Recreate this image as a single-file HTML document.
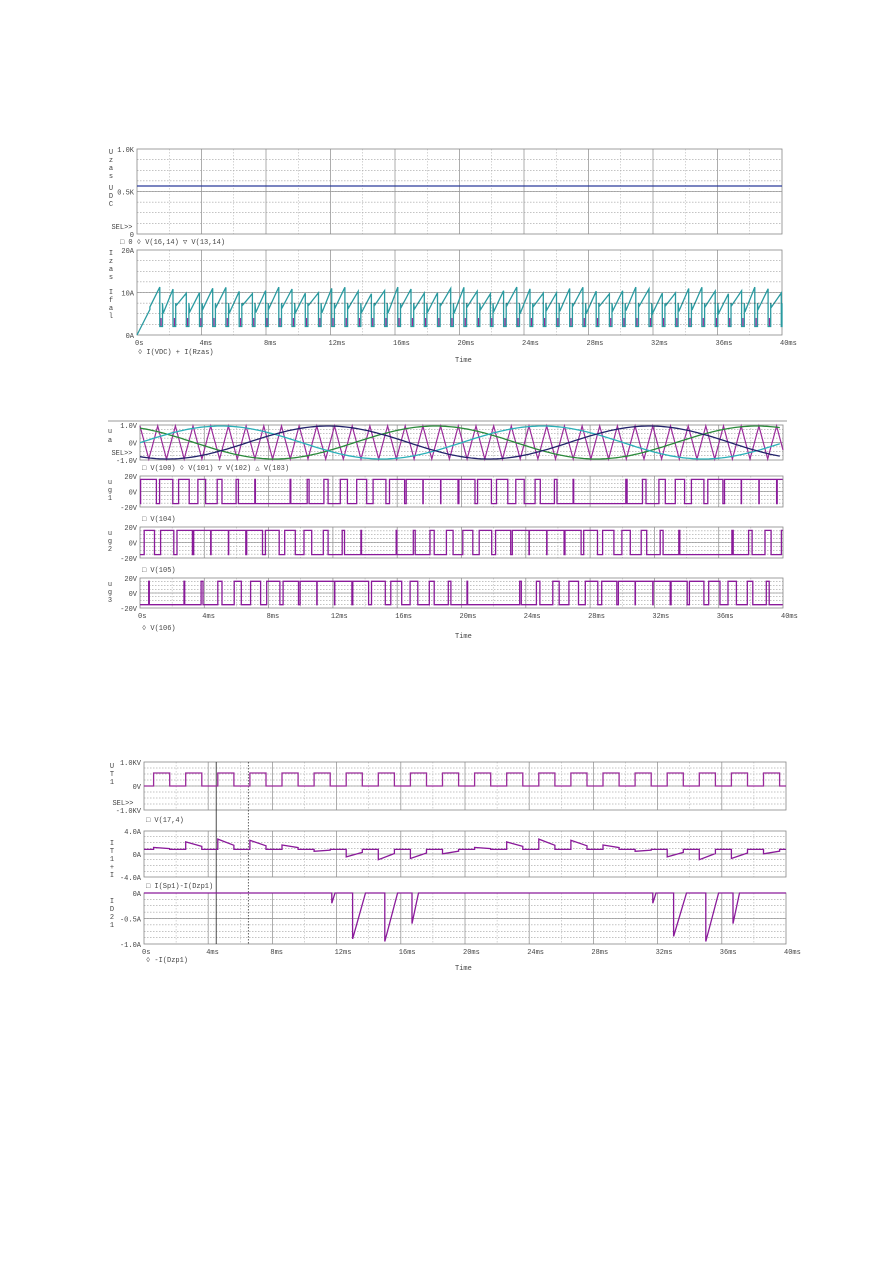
<!DOCTYPE html>
<html><head><meta charset="utf-8"><style>
html,body{margin:0;padding:0;background:#fff;width:893px;height:1263px;overflow:hidden}
svg{display:block}
text{font-family:"Liberation Mono",monospace;font-size:7px;fill:#444}
</style></head><body>
<svg id="s" width="893" height="1263" xmlns="http://www.w3.org/2000/svg">
<text x="455" y="362">Time</text>
<text x="455" y="638">Time</text>
<text x="455" y="970">Time</text>
<line x1="108" y1="421" x2="787" y2="421" stroke="#999" stroke-width="1"/>
<text x="120" y="244">□ 0 ◊ V(16,14) ▽ V(13,14)</text>
<text x="138" y="354">◊ I(VDC) + I(Rzas)</text>
<text x="142" y="470">□ V(100) ◊ V(101) ▽ V(102) △ V(103)</text>
<text x="142" y="521">□ V(104)</text>
<text x="142" y="572">□ V(105)</text>
<text x="142" y="630">◊ V(106)</text>
<text x="146" y="822">□ V(17,4)</text>
<text x="146" y="888">□ I(Sp1)-I(Dzp1)</text>
<text x="146" y="962">◊ -I(Dzp1)</text>
</svg>
<script>
var S=document.getElementById('s'),NS='http://www.w3.org/2000/svg';
function el(n,a,t){var e=document.createElementNS(NS,n);for(var k in a)e.setAttribute(k,a[k]);if(t!=null)e.textContent=t;S.appendChild(e);return e;}
function panel(x0,x1,y0,y1,labels,side,xt){
 var nh=8;
 for(var i=1;i<nh;i++){var y=y0+(y1-y0)*i/nh;el('line',{x1:x0,x2:x1,y1:y,y2:y,stroke:'#888','stroke-width':0.6,'stroke-dasharray':'1.5,1.5'});}
 for(var i=1;i<40;i++){var x=x0+(x1-x0)*i/40;if(i%4==0)el('line',{x1:x,x2:x,y1:y0,y2:y1,stroke:'#999','stroke-width':0.8});else if(i%2==0)el('line',{x1:x,x2:x,y1:y0,y2:y1,stroke:'#aaa','stroke-width':0.5,'stroke-dasharray':'1.5,1.5'});}
 el('line',{x1:x0,x2:x1,y1:(y0+y1)/2,y2:(y0+y1)/2,stroke:'#999','stroke-width':0.7});
 el('rect',{x:x0,y:y0,width:x1-x0,height:y1-y0,fill:'none',stroke:'#888','stroke-width':0.8});
 el('text',{x:x0-3,y:y0+3,'text-anchor':'end'},labels[0]);
 el('text',{x:x0-3,y:(y0+y1)/2+3,'text-anchor':'end'},labels[1]);
 el('text',{x:x0-3,y:y1+3,'text-anchor':'end'},labels[2]);
 for(var j=0;j<side.length;j++)el('text',{x:side[j][0],y:side[j][1],'text-anchor':'middle'},side[j][2]);
 if(xt){for(var i=0;i<=10;i++)el('text',{x:x0+(x1-x0)*i/10-2,y:y1+10},(i*4)+(i?'ms':'s'));}
}
function letters(x,y,s,dy){var a=[];for(var i=0;i<s.length;i++)a.push([x,y+i*dy,s[i]]);return a;}
function poly(pts,c,w,mx){el('polyline',{points:pts.map(function(p){var x=mx?Math.min(p[0],mx):p[0];return x.toFixed(1)+','+p[1].toFixed(1)}).join(' '),fill:'none',stroke:c,'stroke-width':w||1.2});}
// chart 1
var A0=137,A1=782;
panel(A0,A1,149,234,['1.0K','0.5K','0'],letters(111,154,'Uzas',8).concat(letters(111,190,'UDC',8)).concat([[122,229,'SEL>>']]));
poly([[A0,186],[A1,186]],'#2a3a9a',1.3);
panel(A0,A1,250,335,['20A','10A','0A'],letters(111,255,'Izas',8).concat(letters(111,294,'Ifal',8)),true);
(function(){var X=function(t){return A0+(A1-A0)*t/40},Y=function(v){return 335-85*v/20};
 var p=[[X(0),Y(0)]],p2=[];var per=0.82;
 p.push([X(0.8),Y(6)]);
 for(var t=0.8;t<40;t+=per){var pk=10.5+Math.sin(t*1.7)*0.8;var st=6+Math.sin(t*3.1);
  p.push([X(t),Y(st)]);p.push([X(t+per*0.75),Y(pk)]);p.push([X(t+per*0.75),Y(2)]);p.push([X(t+per*0.95),Y(2)]);p.push([X(t+per*0.95),Y(7.5)]);
  if(t+per*0.85<40)p2.push([X(t+per*0.85),Y(2)],[X(t+per*0.85),Y(4)]);}
 for(var i=0;i<p2.length;i+=2)poly([p2[i],p2[i+1]],'#9a2a9a',1.2);
 poly(p,'#2a9aa0',1.3,A1);
 el('line',{x1:X(5),x2:A1,y1:Y(7.5),y2:Y(7.5),stroke:'#333','stroke-width':0.6,'stroke-dasharray':'2,2'});
})();
// chart 2
var B0=140,B1=783;
function tri(t){var ph=(t/1.1)%1;return ph<0.5?1-4*ph:-3+4*ph;}
function sn(t,s){return Math.sin(2*Math.PI*(t-6.7-s)/20);}
panel(B0,B1,425,460,['1.0V','0V','-1.0V'],[[110,433,'u'],[110,442,'a'],[122,455,'SEL>>']]);
(function(){var X=function(t){return B0+(B1-B0)*t/40};
 var cols=[['#2a8a3a',6.67],['#2ab0b8',-6.67],['#22226a',0]];
 var pt=[];for(var t=0;t<=40;t+=0.05)pt.push([X(t),442.5-16.5*tri(t)]);poly(pt,'#9a2a9a',1.2,B1);
 cols.forEach(function(c){var p=[];for(var t=0;t<=40;t+=0.2)p.push([X(t),442.5-16.5*sn(t,c[1])]);poly(p,c[0],1.3,B1);});
 var pans=[[476,507,6.67,'1'],[527,558,-6.67,'2'],[578,608,0,'3']];
 pans.forEach(function(q,k){panel(B0,B1,q[0],q[1],['20V','0V','-20V'],[[110,q[0]+8,'u'],[110,q[0]+16,'g'],[110,q[0]+24,q[3]]],k==2);
  var mid=(q[0]+q[1])/2,h=(q[1]-q[0])/2*0.78,p=[],prev=null;
  for(var t=0;t<=40;t+=0.02){var v=sn(t,q[2])>tri(t)?1:-1;var y=mid-h*v;if(prev!==null&&prev!==y)p.push([X(t),prev]);p.push([X(t),y]);prev=y;}
  poly(p,'#8a1a9a',1.3,B1);});
})();
// chart 3
var C0=144,C1=786;
panel(C0,C1,762,810,['1.0KV','0V','-1.0KV'],letters(112,768,'UT1',8).concat([[123,805,'SEL>>']]));
panel(C0,C1,831,877,['4.0A','0A','-4.0A'],letters(112,845,'IT1+I',8));
panel(C0,C1,893,944,['0A','-0.5A','-1.0A'],letters(112,903,'ID21',8),true);
(function(){var X=function(t){return C0+(C1-C0)*t/40};
 el('line',{x1:X(4)+8,x2:X(4)+8,y1:762,y2:944,stroke:'#222','stroke-width':0.8});
 el('line',{x1:X(6)+8,x2:X(6)+8,y1:762,y2:944,stroke:'#222','stroke-width':0.7,'stroke-dasharray':'1.5,1.5'});
 var p=[[C0,786]];for(var k=0;k<20;k++){var a=X(2*k+0.6),b=X(2*k+1.6);p.push([a,786],[a,773],[b,773],[b,786],[X(2*k+2.6),786]);}
 poly(p,'#9a2a9a',1.3,C1);
 var Y=function(v){return 854-23*v/4};var q=[[C0,Y(0.8)]];
 for(var k=0;k<20;k++){var t0=2*k+0.6,amp=0.8+1.8*Math.cos(2*Math.PI*(t0-5)/20);
  q.push([X(t0),Y(0.8)],[X(t0),Y(amp)],[X(t0+1),Y(0.8+(amp-0.8)*0.4)],[X(t0+1),Y(0.8)],[X(t0+2),Y(0.8)]);}
 poly(q,'#8a1a9a',1.3,C1);
 var Z=function(v){return 893+51*(-v)};var r=[[C0,893]];
 [[11.7,-0.2,0.2],[13,-0.9,0.8],[15,-0.95,0.8],[16.7,-0.6,0.4],[31.7,-0.2,0.2],[33,-0.85,0.8],[35,-0.95,0.8],[36.7,-0.6,0.4]].forEach(function(s){r.push([X(s[0]),893],[X(s[0]),Z(s[1])],[X(s[0]+s[2]),893]);});
 r.push([C1,893]);poly(r,'#8a1a9a',1.3,C1);
})();
</script>
</body></html>
